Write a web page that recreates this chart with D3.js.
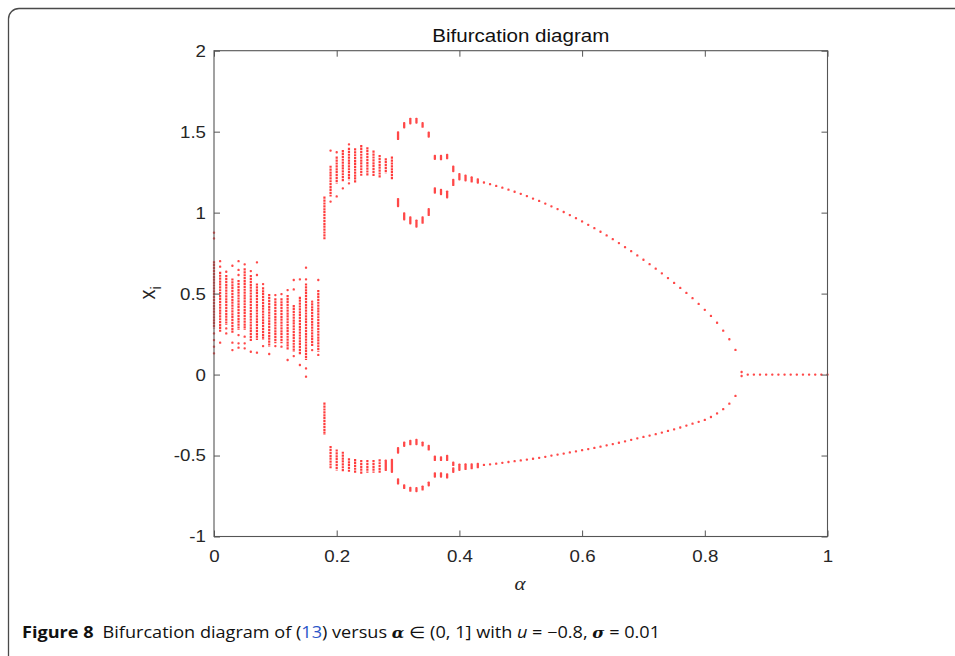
<!DOCTYPE html>
<html>
<head>
<meta charset="utf-8">
<script src="https://cdn.jsdelivr.net/npm/d3@7"></script>
<style>
  html, body { margin: 0; padding: 0; background: #fff; }
  svg { display: block; }
</style>
</head>
<body>
<svg id="chart" width="955" height="656"></svg>
<script>
// Parameter grid (alpha) and the long-run orbit of x_i at each alpha.
// Each orbit entry is a list of [low, high] bands; low == high is a single point.
const alphaValues = [
  0.00, 0.01, 0.02, 0.03, 0.04, 0.05, 0.06, 0.07, 0.08, 0.09,
  0.10, 0.11, 0.12, 0.13, 0.14, 0.15, 0.16, 0.17, 0.18, 0.19,
  0.20, 0.21, 0.22, 0.23, 0.24, 0.25, 0.26, 0.27, 0.28, 0.29,
  0.30, 0.31, 0.32, 0.33, 0.34, 0.35, 0.36, 0.37, 0.38, 0.39,
  0.40, 0.41, 0.42, 0.43, 0.44, 0.45, 0.46, 0.47, 0.48, 0.49,
  0.50, 0.51, 0.52, 0.53, 0.54, 0.55, 0.56, 0.57, 0.58, 0.59,
  0.60, 0.61, 0.62, 0.63, 0.64, 0.65, 0.66, 0.67, 0.68, 0.69,
  0.70, 0.71, 0.72, 0.73, 0.74, 0.75, 0.76, 0.77, 0.78, 0.79,
  0.80, 0.81, 0.82, 0.83, 0.84, 0.85, 0.86, 0.87, 0.88, 0.89,
  0.90, 0.91, 0.92, 0.93, 0.94, 0.95, 0.96, 0.97, 0.98, 0.99,
  1.00
];

// Chaotic window, alpha 0.00 - 0.17
const chaoticBands = [
  [[0.285,0.70],[0.876,0.876],[0.841,0.841],[0.254,0.254],[0.213,0.213],[0.172,0.172],[0.131,0.131]],
  [[0.265,0.635],[0.70,0.70],[0.666,0.666],[0.197,0.197]],
  [[0.306,0.615],[0.635,0.635],[0.285,0.285],[0.254,0.254]],
  [[0.254,0.594],[0.672,0.672],[0.197,0.197],[0.151,0.151]],
  [[0.275,0.584],[0.70,0.70],[0.646,0.646],[0.615,0.615],[0.244,0.244],[0.193,0.193],[0.166,0.166]],
  [[0.275,0.656],[0.681,0.681],[0.234,0.234],[0.193,0.193],[0.162,0.162]],
  [[0.203,0.615],[0.639,0.639],[0.141,0.141]],
  [[0.213,0.563],[0.693,0.693],[0.615,0.615],[0.135,0.135]],
  [[0.213,0.539],[0.559,0.559],[0.176,0.176]],
  [[0.172,0.497],[0.127,0.127]],
  [[0.193,0.471],[0.491,0.491],[0.176,0.176]],
  [[0.193,0.471],[0.497,0.497],[0.172,0.172]],
  [[0.151,0.491],[0.522,0.522],[0.090,0.090]],
  [[0.141,0.43],[0.584,0.584],[0.526,0.526],[0.114,0.114]],
  [[0.121,0.481],[0.588,0.588],[0.059,0.059]],
  [[0.090,0.563],[0.660,0.660],[0.588,0.588],[0.038,0.038],[-0.013,-0.013]],
  [[0.172,0.44],[0.45,0.45],[0.151,0.151]],
  [[0.141,0.522],[0.584,0.584],[0.121,0.121]]
];

// Two-band window, alpha 0.18 - 0.29
const twoBandBands = [
  [[0.835,1.099],[-0.373,-0.173]],
  [[1.10,1.29],[1.383,1.383],[1.068,1.068],[-0.579,-0.441]],
  [[1.18,1.346],[1.373,1.373],[1.10,1.10],[-0.593,-0.462]],
  [[1.192,1.387],[1.15,1.15],[-0.60,-0.476]],
  [[1.20,1.40],[1.422,1.422],[1.181,1.181],[-0.60,-0.517]],
  [[1.181,1.397],[-0.606,-0.521]],
  [[1.227,1.418],[-0.614,-0.527]],
  [[1.227,1.404],[-0.606,-0.527]],
  [[1.222,1.383],[-0.606,-0.527]],
  [[1.212,1.356],[-0.606,-0.523]],
  [[1.243,1.336],[-0.589,-0.531]],
  [[1.202,1.346],[-0.60,-0.527]]
];

// Period-4 loop, alpha 0.30 - 0.39
const loopBands = [
  [[1.455,1.496],[1.041,1.084],[-0.482,-0.455],[-0.672,-0.647]],
  [[1.527,1.552],[0.959,0.996],[-0.44,-0.42],[-0.70,-0.684]],
  [[1.552,1.579],[0.934,0.971],[-0.43,-0.41],[-0.717,-0.70]],
  [[1.556,1.579],[0.914,0.951],[-0.429,-0.404],[-0.719,-0.702]],
  [[1.531,1.552],[0.938,0.971],[-0.437,-0.42],[-0.709,-0.692]],
  [[1.47,1.494],[0.986,1.021],[-0.462,-0.441],[-0.684,-0.667]],
  [[1.332,1.35],[1.124,1.15],[-0.527,-0.507],[-0.63,-0.61]],
  [[1.33,1.35],[1.115,1.14],[-0.527,-0.511],[-0.63,-0.61]],
  [[1.336,1.356],[1.095,1.13],[-0.527,-0.503],[-0.635,-0.616]],
  [[1.257,1.284],[1.171,1.202],[-0.558,-0.544],[-0.60,-0.579]]
];

// Period-2 branches, alpha 0.40 - 0.86
const upperBranch = [
  1.222, 1.214, 1.205, 1.196, 1.186, 1.176, 1.165, 1.154, 1.142, 1.129,
  1.116, 1.102, 1.087, 1.072, 1.056, 1.039, 1.022, 1.004, 0.985, 0.966,
  0.946, 0.925, 0.904, 0.882, 0.859, 0.836, 0.812, 0.787, 0.762, 0.736,
  0.709, 0.682, 0.654, 0.625, 0.596, 0.566, 0.535, 0.504, 0.472, 0.436,
  0.40, 0.362, 0.32, 0.271, 0.218, 0.152, 0.016
];
const lowerBranch = [
  -0.572, -0.569, -0.566, -0.562, -0.558, -0.554, -0.55, -0.545, -0.54, -0.535,
  -0.53, -0.525, -0.52, -0.514, -0.508, -0.50, -0.494, -0.488, -0.481, -0.474,
  -0.467, -0.46, -0.453, -0.445, -0.437, -0.429, -0.421, -0.412, -0.403, -0.394,
  -0.385, -0.377, -0.368, -0.358, -0.348, -0.338, -0.327, -0.315, -0.303, -0.292,
  -0.28, -0.262, -0.24, -0.214, -0.18, -0.132, -0.009
];
// Width of the short noisy dashes at the start of the branches
const branchSpread = [0.016, 0.014, 0.012, 0.010];

// Fixed point x = 0, alpha 0.87 - 1.00
const fixedPoint = [0, 0, 0, 0, 0, 0, 0, 0, 0, 0, 0, 0, 0, 0];

const xTicks = [0, 0.2, 0.4, 0.6, 0.8, 1];
const xTickLabels = ["0", "0.2", "0.4", "0.6", "0.8", "1"];
const yTicks = [-1, -0.5, 0, 0.5, 1, 1.5, 2];
const yTickLabels = ["-1", "-0.5", "0", "0.5", "1", "1.5", "2"];

// Assemble the per-alpha band list
const orbitBands = [];
chaoticBands.forEach(b => orbitBands.push(b));
twoBandBands.forEach(b => orbitBands.push(b));
loopBands.forEach(b => orbitBands.push(b));
upperBranch.forEach((u, i) => {
  const s = i < branchSpread.length ? branchSpread[i] : 0;
  orbitBands.push([[u - s, u + s], [lowerBranch[i] - s, lowerBranch[i] + s]]);
});
fixedPoint.forEach(v => orbitBands.push([[v, v]]));

const points = [];
orbitBands.forEach((bands, i) => {
  bands.forEach(([lo, hi]) => points.push({ a: alphaValues[i], lo, hi }));
});

const svg = d3.select("#chart");
svg.append("rect").attr("width", 955).attr("height", 656).attr("fill", "#fff");

// Figure frame with rounded top-left corner
svg.append("path")
  .attr("d", "M956,8.5 H19 A10.5,10.5 0 0 0 8.5,19 V657")
  .attr("fill", "none")
  .attr("stroke", "#4a4a4a")
  .attr("stroke-width", 1.3);

const plotLeft = 214, plotRight = 827.5, plotTop = 50.7, plotBottom = 536.5;
const x = d3.scaleLinear().domain([0, 1]).range([plotLeft, plotRight]);
const y = d3.scaleLinear().domain([-1, 2]).range([plotBottom, plotTop]);

const axisColor = "#555";
const labelColor = "#262626";
const stretch = 1.1;
const markRed = "#ff1a1a";

// Orbit points: long bands as densely dotted strokes, short ones as small marks
const dot = 2.3;
const isBand = d => y(d.lo) - y(d.hi) > 12;
const marks = svg.append("g");
marks.selectAll("line")
  .data(points.filter(isBand))
  .join("line")
  .attr("x1", d => x(d.a)).attr("x2", d => x(d.a))
  .attr("y1", d => y(d.hi)).attr("y2", d => y(d.lo))
  .attr("stroke", markRed)
  .attr("stroke-width", 2.2)
  .attr("stroke-opacity", 0.85)
  .attr("stroke-dasharray", "2.2 0.7");
marks.selectAll("rect")
  .data(points.filter(d => !isBand(d)))
  .join("rect")
  .attr("x", d => x(d.a) - dot / 2)
  .attr("y", d => y(d.hi) - dot / 2)
  .attr("width", dot)
  .attr("height", d => Math.max(dot, y(d.lo) - y(d.hi) + dot))
  .attr("rx", 0.9)
  .attr("fill", markRed)
  .attr("fill-opacity", 0.8);

function styleAxis(g) {
  g.select(".domain").remove();
  g.selectAll(".tick line").attr("stroke", axisColor);
  g.selectAll(".tick text")
    .attr("fill", labelColor)
    .attr("font-family", "'Liberation Sans', Arial, sans-serif")
    .attr("font-size", 17);
}

// Bottom and left axes with inward ticks
svg.append("g")
  .attr("transform", `translate(0,${plotBottom})`)
  .call(d3.axisBottom(x).tickValues(xTicks).tickFormat((d, i) => xTickLabels[i])
    .tickSizeInner(-6).tickSizeOuter(0).tickPadding(13))
  .call(styleAxis)
  .call(g => g.selectAll(".tick text").attr("transform", `scale(${stretch},1)`));

svg.append("g")
  .attr("transform", `translate(${plotLeft},0)`)
  .call(d3.axisLeft(y).tickValues(yTicks).tickFormat((d, i) => yTickLabels[i])
    .tickSizeInner(-6).tickSizeOuter(0).tickPadding(8))
  .call(styleAxis)
  .call(g => g.selectAll(".tick text")
    .attr("x", null).attr("dx", null)
    .attr("transform", `translate(-8,0) scale(${stretch},1)`));

// Mirrored ticks on top and right
svg.append("g")
  .attr("transform", `translate(0,${plotTop})`)
  .call(d3.axisTop(x).tickValues(xTicks).tickFormat("").tickSizeInner(-6).tickSizeOuter(0))
  .call(styleAxis);
svg.append("g")
  .attr("transform", `translate(${plotRight},0)`)
  .call(d3.axisRight(y).tickValues(yTicks).tickFormat("").tickSizeInner(-6).tickSizeOuter(0))
  .call(styleAxis);

// Axes box
svg.append("rect")
  .attr("x", plotLeft).attr("y", plotTop)
  .attr("width", plotRight - plotLeft).attr("height", plotBottom - plotTop)
  .attr("fill", "none").attr("stroke", axisColor).attr("stroke-width", 1.1);

// Title
svg.append("text")
  .attr("transform", `translate(${(plotLeft + plotRight) / 2},42) scale(${stretch},1)`)
  .attr("text-anchor", "middle")
  .attr("font-family", "'Liberation Sans', Arial, sans-serif")
  .attr("font-size", 18.7)
  .attr("fill", "#111")
  .text("Bifurcation diagram");

// Axis labels
svg.append("text")
  .attr("transform", `translate(520,590) scale(${stretch},1)`)
  .attr("text-anchor", "middle")
  .attr("font-family", "'Liberation Serif', 'Times New Roman', serif")
  .attr("font-style", "italic")
  .attr("font-size", 19)
  .attr("fill", labelColor)
  .text("α");

const yLab = svg.append("text")
  .attr("transform", "translate(155,293) rotate(-90) scale(1,1.1)")
  .attr("text-anchor", "middle")
  .attr("font-family", "'Liberation Sans', Arial, sans-serif")
  .attr("font-size", 20)
  .attr("fill", labelColor);
yLab.append("tspan").text("x");
yLab.append("tspan").attr("font-size", 14).attr("dy", 5).text("i");

// Caption
const cap = svg.append("text")
  .attr("x", 22).attr("y", 638)
  .attr("font-family", "'Open Sans', 'Noto Sans', sans-serif")
  .attr("font-size", 15.5)
  .attr("fill", "#111")
  .attr("textLength", 638)
  .attr("lengthAdjust", "spacingAndGlyphs");
cap.append("tspan").attr("font-weight", "bold").text("Figure 8");
cap.append("tspan").text("\u2002Bifurcation diagram of (");
cap.append("tspan").attr("fill", "#2a55c8").text("13");
cap.append("tspan").text(") versus ");
cap.append("tspan").attr("font-weight", "bold").attr("font-style", "italic").attr("font-family", "'DejaVu Serif', serif").attr("font-size", 14).text("α");
cap.append("tspan").text(" ∈ (0, 1] with ");
cap.append("tspan").attr("font-style", "italic").text("u");
cap.append("tspan").text(" = −0.8, ");
cap.append("tspan").attr("font-weight", "bold").attr("font-style", "italic").attr("font-family", "'DejaVu Serif', serif").attr("font-size", 14).text("σ");
cap.append("tspan").text(" = 0.01");
</script>
</body>
</html>
